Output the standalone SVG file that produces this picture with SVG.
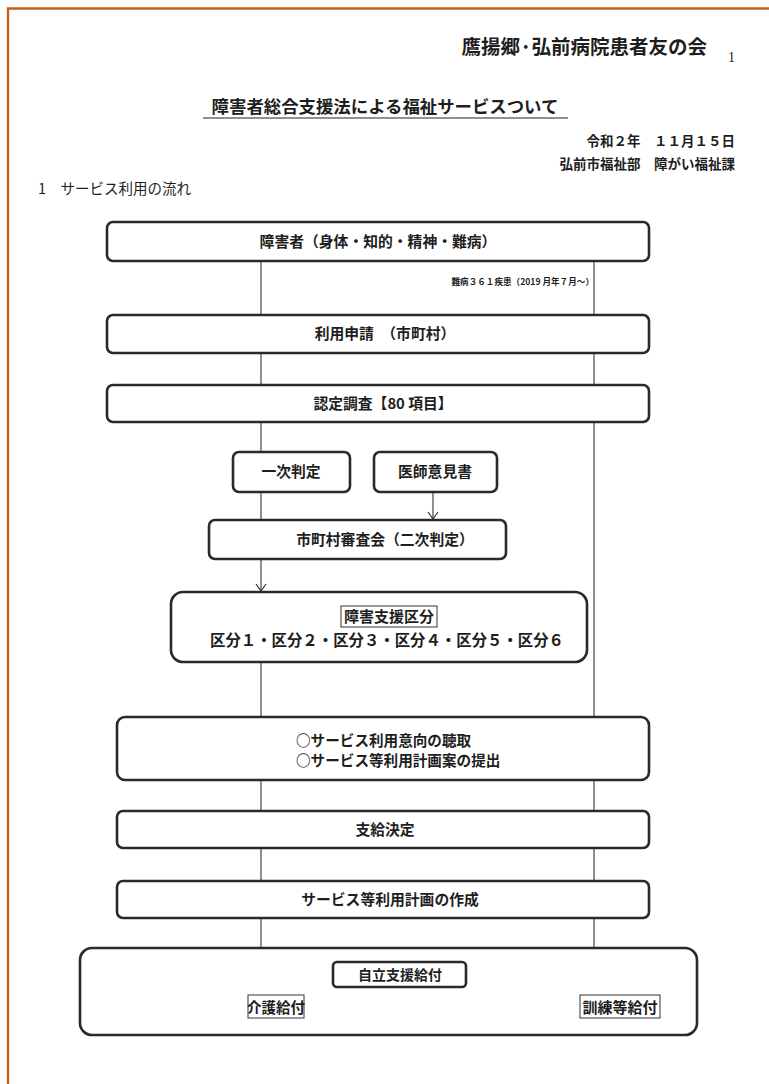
<svg xmlns="http://www.w3.org/2000/svg" width="769" height="1084" viewBox="0 0 769 1084">
<defs>
<style>
.t{font-family:"Noto Sans CJK JP","Noto Sans CJK SC",sans-serif;fill:#1e1e1e;font-weight:bold}
.n{fill:#fff;stroke:#2a2a2a;stroke-width:2.6}
.thin{fill:#fff;stroke:#333;stroke-width:1}
.c{stroke:#444;stroke-width:1.2;fill:none}
</style>
<marker id="ah" viewBox="0 0 12 12" refX="11" refY="6" markerWidth="12" markerHeight="12" markerUnits="userSpaceOnUse" orient="auto">
<path d="M4,1 L11,6 L4,11" fill="none" stroke="#333" stroke-width="1.2"/>
</marker>
</defs>
<rect x="0" y="0" width="769" height="1084" fill="#fff"/>
<path d="M8,1084 L8,8.5 L769,8.5" fill="none" stroke="#c65f14" stroke-width="2.4"/>

<g id="header">
<text x="707" y="54" text-anchor="end" class="t" style="font-family:'Noto Sans CJK JP',serif;font-size:19.5px">鷹揚郷·弘前病院患者友の会</text>
<text x="728" y="62" style="font-family:'Liberation Serif',serif;font-size:14px;fill:#222">1</text>
<text x="385" y="113" text-anchor="middle" class="t" style="font-size:17.4px">障害者総合支援法による福祉サービスついて</text>
<line x1="203" y1="118" x2="568" y2="118" stroke="#222" stroke-width="1.2"/>
<text x="735" y="146" text-anchor="end" class="t" style="font-size:13.5px">令和２年　１１月１５日</text>
<text x="735" y="169" text-anchor="end" class="t" style="font-size:13.5px">弘前市福祉部　障がい福祉課</text>
<text x="38" y="194" class="t" style="font-size:14.5px;font-weight:normal">1　サービス利用の流れ</text>
</g>

<g id="connectors">
<line class="c" x1="261" y1="261" x2="261" y2="315"/>
<line class="c" x1="594" y1="261" x2="594" y2="315"/>
<line class="c" x1="261" y1="353" x2="261" y2="385"/>
<line class="c" x1="594" y1="353" x2="594" y2="385"/>
<line class="c" x1="261" y1="422" x2="261" y2="452"/>
<line class="c" x1="261" y1="492" x2="261" y2="520"/>
<line class="c" x1="433" y1="492" x2="433" y2="519" marker-end="url(#ah)"/>
<line class="c" x1="261" y1="559" x2="261" y2="591" marker-end="url(#ah)"/>
<line class="c" x1="594" y1="422" x2="594" y2="717"/>
<line class="c" x1="261" y1="662" x2="261" y2="717"/>
<line class="c" x1="261" y1="780" x2="261" y2="811"/>
<line class="c" x1="594" y1="780" x2="594" y2="811"/>
<line class="c" x1="261" y1="848" x2="261" y2="881"/>
<line class="c" x1="594" y1="848" x2="594" y2="881"/>
<line class="c" x1="261" y1="918" x2="261" y2="995" marker-end="url(#ah)"/>
<line class="c" x1="594" y1="918" x2="594" y2="995" marker-end="url(#ah)"/>
</g>

<g id="note">
<text x="594" y="285" text-anchor="end" class="t" style="font-size:8.6px">難病３６１疾患（2019 月年７月〜）</text>
</g>

<g id="n1">
<rect class="n" x="107" y="222" width="542" height="39" rx="6"/>
<text x="378" y="247" text-anchor="middle" class="t" style="font-size:14.8px">障害者（身体・知的・精神・難病）</text>
</g>
<g id="n2">
<rect class="n" x="107" y="315" width="542" height="38" rx="6"/>
<text x="385" y="339" text-anchor="middle" class="t" style="font-size:14.8px">利用申請　（市町村）</text>
</g>
<g id="n3">
<rect class="n" x="107" y="385" width="542" height="37" rx="6"/>
<text x="383" y="409" text-anchor="middle" class="t" style="font-size:14.8px">認定調査【80 項目】</text>
</g>
<g id="n4">
<rect class="n" x="233" y="452" width="117" height="40" rx="6"/>
<text x="291" y="477" text-anchor="middle" class="t" style="font-size:14.8px">一次判定</text>
</g>
<g id="n5">
<rect class="n" x="374" y="452" width="123" height="40" rx="6"/>
<text x="435" y="477" text-anchor="middle" class="t" style="font-size:14.8px">医師意見書</text>
</g>
<g id="n6">
<rect class="n" x="209" y="520" width="297" height="39" rx="6"/>
<text x="385" y="545" text-anchor="middle" class="t" style="font-size:14.8px">市町村審査会（二次判定）</text>
</g>
<g id="n7">
<rect class="n" x="171" y="592" width="416" height="70" rx="12"/>
<rect class="thin" x="341" y="606" width="96" height="21"/>
<text x="389" y="622" text-anchor="middle" class="t" style="font-size:15px">障害支援区分</text>
<text x="387" y="646" text-anchor="middle" class="t" style="font-size:15.4px">区分１・区分２・区分３・区分４・区分５・区分６</text>
</g>
<g id="n8">
<rect class="n" x="117" y="717" width="532" height="63" rx="8"/>
<text x="296" y="746" class="t" style="font-size:14.6px">○サービス利用意向の聴取</text>
<text x="296" y="766" class="t" style="font-size:14.6px">○サービス等利用計画案の提出</text>
</g>
<g id="n9">
<rect class="n" x="117" y="811" width="532" height="37" rx="6"/>
<text x="385" y="835" text-anchor="middle" class="t" style="font-size:14.8px">支給決定</text>
</g>
<g id="n10">
<rect class="n" x="117" y="881" width="532" height="37" rx="6"/>
<text x="390" y="905" text-anchor="middle" class="t" style="font-size:14.8px">サービス等利用計画の作成</text>
</g>
<g id="n11">
<rect class="n" x="80" y="948" width="617" height="87" rx="12"/>
<rect class="n" x="333" y="962" width="133" height="25" rx="4"/>
<text x="400" y="980" text-anchor="middle" class="t" style="font-size:14px">自立支援給付</text>
<rect class="thin" x="248" y="995" width="56" height="23"/>
<text x="276" y="1013" text-anchor="middle" class="t" style="font-size:14.5px">介護給付</text>
<rect class="thin" x="580" y="995" width="80" height="23"/>
<text x="620" y="1013" text-anchor="middle" class="t" style="font-size:15px">訓練等給付</text>
</g>
</svg>
